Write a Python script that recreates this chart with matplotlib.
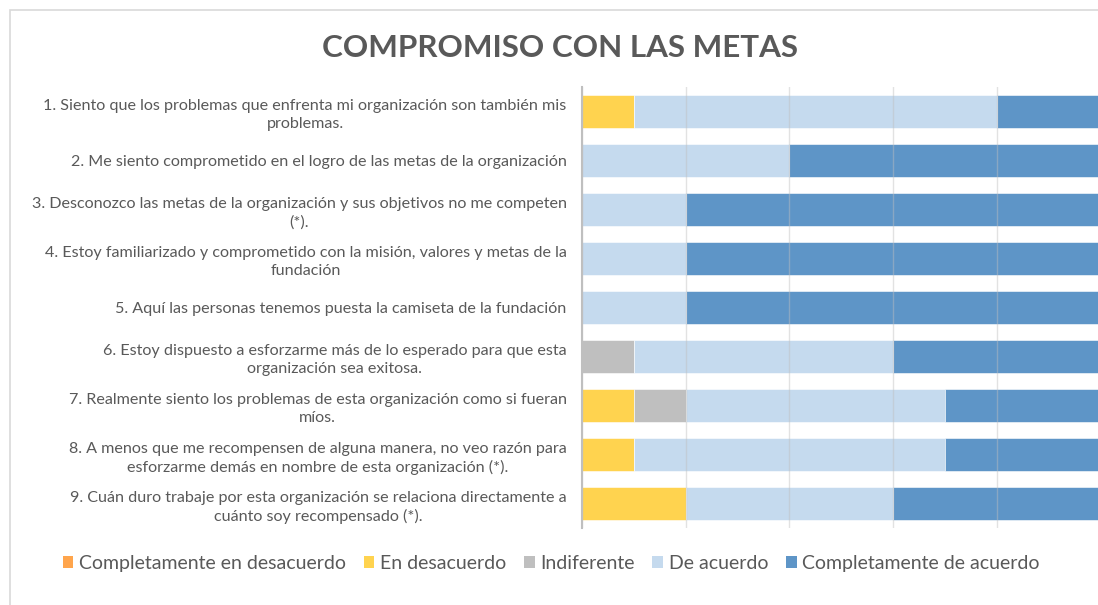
import numpy as np
import matplotlib.pyplot as plt
from matplotlib.patches import Rectangle, Patch

# Data (percentages)
preguntas = [
    "1. Siento que los problemas que enfrenta mi organización son también mis\nproblemas.",
    "2. Me siento comprometido en el logro de las metas de la organización",
    "3. Desconozco las metas de la organización y sus objetivos no me competen\n(*).",
    "4. Estoy familiarizado y comprometido con la misión, valores y metas de la\nfundación",
    "5. Aquí las personas tenemos puesta la camiseta de la fundación",
    "6. Estoy dispuesto a esforzarme más de lo esperado para que esta\norganización sea exitosa.",
    "7. Realmente siento los problemas de esta organización como si fueran\nmíos.",
    "8. A menos que me recompensen de alguna manera, no veo razón para\nesforzarme demás en nombre de esta organización (*).",
    "9. Cuán duro trabaje por esta organización se relaciona directamente a\ncuánto soy recompensado (*).",
]
series = ["Completamente en desacuerdo", "En desacuerdo", "Indiferente",
          "De acuerdo", "Completamente de acuerdo"]
comp_desacuerdo = [0, 0, 0, 0, 0, 0, 0, 0, 0]
desacuerdo = [10, 0, 0, 0, 0, 0, 10, 10, 20]
indiferente = [0, 0, 0, 0, 0, 10, 10, 0, 0]
de_acuerdo = [70, 40, 20, 20, 20, 50, 50, 60, 40]
comp_acuerdo = [20, 60, 80, 80, 80, 40, 30, 30, 40]
colores = ["#FFA54C", "#FFD34F", "#BFBFBF", "#C5DAEE", "#5E95C7"]

plt.rcParams['font.family'] = ['Lato', 'DejaVu Sans']
txt = "#595959"

fig = plt.figure(figsize=(10.98, 6.05), dpi=100)
ax = fig.add_axes([0.530, 0.127, 0.472, 0.729])

# chart frame
fig.patches.append(Rectangle((10 / 1098, -0.05), 1.2, (605 - 10) / 605 + 0.05,
                             transform=fig.transFigure, fill=False,
                             edgecolor="#D9D9D9", linewidth=1.2))

y = np.arange(len(preguntas))
left = np.zeros(len(preguntas))
for vals, nombre, col in zip([comp_desacuerdo, desacuerdo, indiferente, de_acuerdo, comp_acuerdo],
                             series, colores):
    vals = np.array(vals, dtype=float)
    ax.barh(y, vals, left=left, height=0.66, color=col, label=nombre,
            edgecolor="white", linewidth=0.4, zorder=2)
    left += vals

ax.set_xlim(0, 100)
ax.set_ylim(len(preguntas) - 0.5, -0.5)
ax.set_xticks([0, 20, 40, 60, 80, 100])
ax.xaxis.grid(True, color="#BFBFBF", linewidth=1, alpha=0.45, zorder=3)
ax.set_axisbelow(False)
ax.tick_params(axis="x", length=0, labelbottom=False)
ax.tick_params(axis="y", length=0, pad=11)
ax.set_yticks(y)
ax.set_yticklabels(preguntas, fontsize=11.6, color=txt, multialignment="center",
                   linespacing=1.35)
for s in ["top", "right", "bottom"]:
    ax.spines[s].set_visible(False)
ax.spines["left"].set_color("#BFBFBF")
ax.spines["left"].set_linewidth(1.5)
ax.spines["left"].set_zorder(4)

fig.text(0.51, 0.921, "COMPROMISO CON LAS METAS", ha="center", va="center",
         fontsize=22.6, fontweight="bold", color=txt)

handles = [Patch(facecolor=c, edgecolor="none") for c in colores]
fig.legend(handles, series, loc="center", bbox_to_anchor=(0.502, 0.069), ncol=5,
           frameon=False, fontsize=14, labelcolor=txt, handlelength=0.55,
           handleheight=0.55, handletextpad=0.3, columnspacing=0.9)

fig.savefig("out.png", dpi=100)
